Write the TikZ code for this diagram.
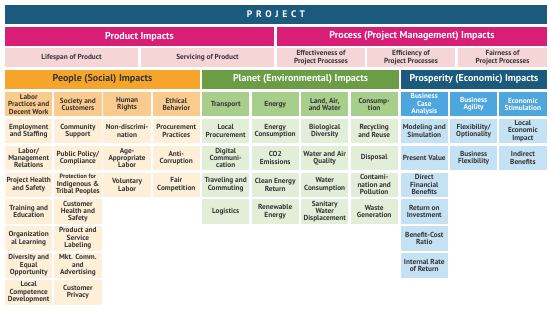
\documentclass[tikz,border=0pt]{standalone}
\usepackage{fontspec}
\setmainfont{PT Sans}
\definecolor{proj}{HTML}{1B5A7D}
\definecolor{mag}{HTML}{D91E78}
\definecolor{pink}{HTML}{F6D5D7}
\definecolor{ppl1}{HTML}{F6A52A}
\definecolor{ppl2}{HTML}{FBCB8E}
\definecolor{ppl3}{HTML}{FDEFD8}
\definecolor{pla1}{HTML}{6A9D45}
\definecolor{pla2}{HTML}{A8CE8B}
\definecolor{pla3}{HTML}{E2EED8}
\definecolor{pro2}{HTML}{4DA6DE}
\definecolor{pro3}{HTML}{C5E1F4}
\definecolor{txt}{HTML}{353535}
\begin{document}
\begin{tikzpicture}[x=1pt,y=-1pt,
  base/.style={anchor=north west, inner sep=0pt, outer sep=0pt, align=center},
  hdr/.style={base, text=white, font=\bfseries\fontsize{10}{11}\selectfont, minimum height=19pt},
  sub/.style={base, fill=pink, text=txt, font=\bfseries\fontsize{7.3}{7.6}\selectfont, minimum height=19pt},
  cell/.style={base, text=txt, font=\bfseries\fontsize{7.3}{7.4}\selectfont, minimum width=47.4pt, minimum height=24.5pt}
]
\useasboundingbox (0,0) rectangle (550,310);
% top rows
\node[hdr, fill=proj, minimum width=542pt, font=\bfseries\fontsize{9.5}{10}\selectfont] (project) at (5,5) {\addfontfeature{LetterSpace=40}PROJECT};
\node[hdr, fill=mag, minimum width=269pt] (product) at (5,27) {Product Impacts};
\node[hdr, fill=mag, minimum width=270pt] (process) at (277,27) {Process (Project Management) Impacts};
\node[sub, minimum width=133pt] (lifespan) at (5,48) {Lifespan of Product};
\node[sub, minimum width=133pt] (servicing) at (141,48) {Servicing of Product};
\node[sub, minimum width=88pt] (effect) at (277,48) {Effectiveness of\\Project Processes};
\node[sub, minimum width=88pt] (effic) at (367,48) {Efficiency of\\Project Processes};
\node[sub, minimum width=89pt] (fair) at (458,48) {Fairness of\\Project Processes};
% group headers
\node[hdr, fill=ppl1, text=txt, minimum width=195pt] (people) at (5,70) {People (Social) Impacts};
\node[hdr, fill=pla1, minimum width=197pt] (planet) at (202,70) {Planet (Environmental) Impacts};
\node[hdr, fill=proj, minimum width=146pt] (prosperity) at (401,70) {Prosperity (Economic) Impacts};
% People column headers
\foreach \t [count=\i from 0] in {{Labor\\Practices and\\Decent Work},{Society and\\Customers},{Human\\Rights},{Ethical\\Behavior}}
  \node[cell, fill=ppl2] (ph\i) at ({5+\i*49.2},92) {\t};
\foreach \t [count=\j] in {{Employment\\and Staffing},{Labor/\\Management\\Relations},{Project Health\\and Safety},{Training and\\Education},{Organization\\al Learning},{Diversity and\\Equal\\Opportunity},{Local\\Competence\\Development}}
  \node[cell, fill=ppl3] (pa\j) at (5,{92+\j*26.86}) {\t};
\foreach \t [count=\j] in {{Community\\Support},{Public Policy/\\Compliance},{\bfseries\fontsize{6.2}{6.9}\selectfont Protection for\\Indigenous \&\\Tribal Peoples},{Customer\\Health and\\Safety},{Product and\\Service\\Labeling},{Mkt. Comm.\\and\\Advertising},{Customer\\Privacy}}
  \node[cell, fill=ppl3] (pb\j) at (54.2,{92+\j*26.86}) {\t};
\foreach \t [count=\j] in {{Non-discrimi-\\nation},{Age-\\Appropriate\\Labor},{Voluntary\\Labor}}
  \node[cell, fill=ppl3] (pc\j) at (103.4,{92+\j*26.86}) {\t};
\foreach \t [count=\j] in {{Procurement\\Practices},{Anti-\\Corruption},{Fair\\Competition}}
  \node[cell, fill=ppl3] (pd\j) at (152.6,{92+\j*26.86}) {\t};
% Planet
\foreach \t [count=\i from 0] in {{Transport},{Energy},{Land, Air,\\and Water},{Consump-\\tion}}
  \node[cell, fill=pla2] (nh\i) at ({202+\i*49.5},92) {\t};
\foreach \t [count=\j] in {{Local\\Procurement},{Digital\\Communi-\\cation},{Traveling and\\Commuting},{Logistics}}
  \node[cell, fill=pla3] (na\j) at (202,{92+\j*26.86}) {\t};
\foreach \t [count=\j] in {{Energy\\Consumption},{CO2\\Emissions},{Clean Energy\\Return},{Renewable\\Energy}}
  \node[cell, fill=pla3] (nb\j) at (251.5,{92+\j*26.86}) {\t};
\foreach \t [count=\j] in {{Biological\\Diversity},{Water and Air\\Quality},{Water\\Consumption},{Sanitary\\Water\\Displacement}}
  \node[cell, fill=pla3] (nc\j) at (301,{92+\j*26.86}) {\t};
\foreach \t [count=\j] in {{Recycling\\and Reuse},{Disposal},{Contami-\\nation and\\Pollution},{Waste\\Generation}}
  \node[cell, fill=pla3] (nd\j) at (350.5,{92+\j*26.86}) {\t};
% Prosperity
\foreach \t [count=\i from 0] in {{Business\\Case\\Analysis},{Business\\Agility},{Economic\\Stimulation}}
  \node[cell, fill=pro2, text=white] (rh\i) at ({400.6+\i*49.3},92) {\t};
\foreach \t [count=\j] in {{Modeling and\\Simulation},{Present Value},{Direct\\Financial\\Benefits},{Return on\\Investment},{Benefit-Cost\\Ratio},{Internal Rate\\of Return}}
  \node[cell, fill=pro3] (ra\j) at (400.6,{92+\j*26.86}) {\t};
\foreach \t [count=\j] in {{Flexibility/\\Optionality},{Business\\Flexibility}}
  \node[cell, fill=pro3] (rb\j) at (449.9,{92+\j*26.86}) {\t};
\foreach \t [count=\j] in {{Local\\Economic\\Impact},{Indirect\\Benefits}}
  \node[cell, fill=pro3] (rc\j) at (499.2,{92+\j*26.86}) {\t};
\end{tikzpicture}
\end{document}
